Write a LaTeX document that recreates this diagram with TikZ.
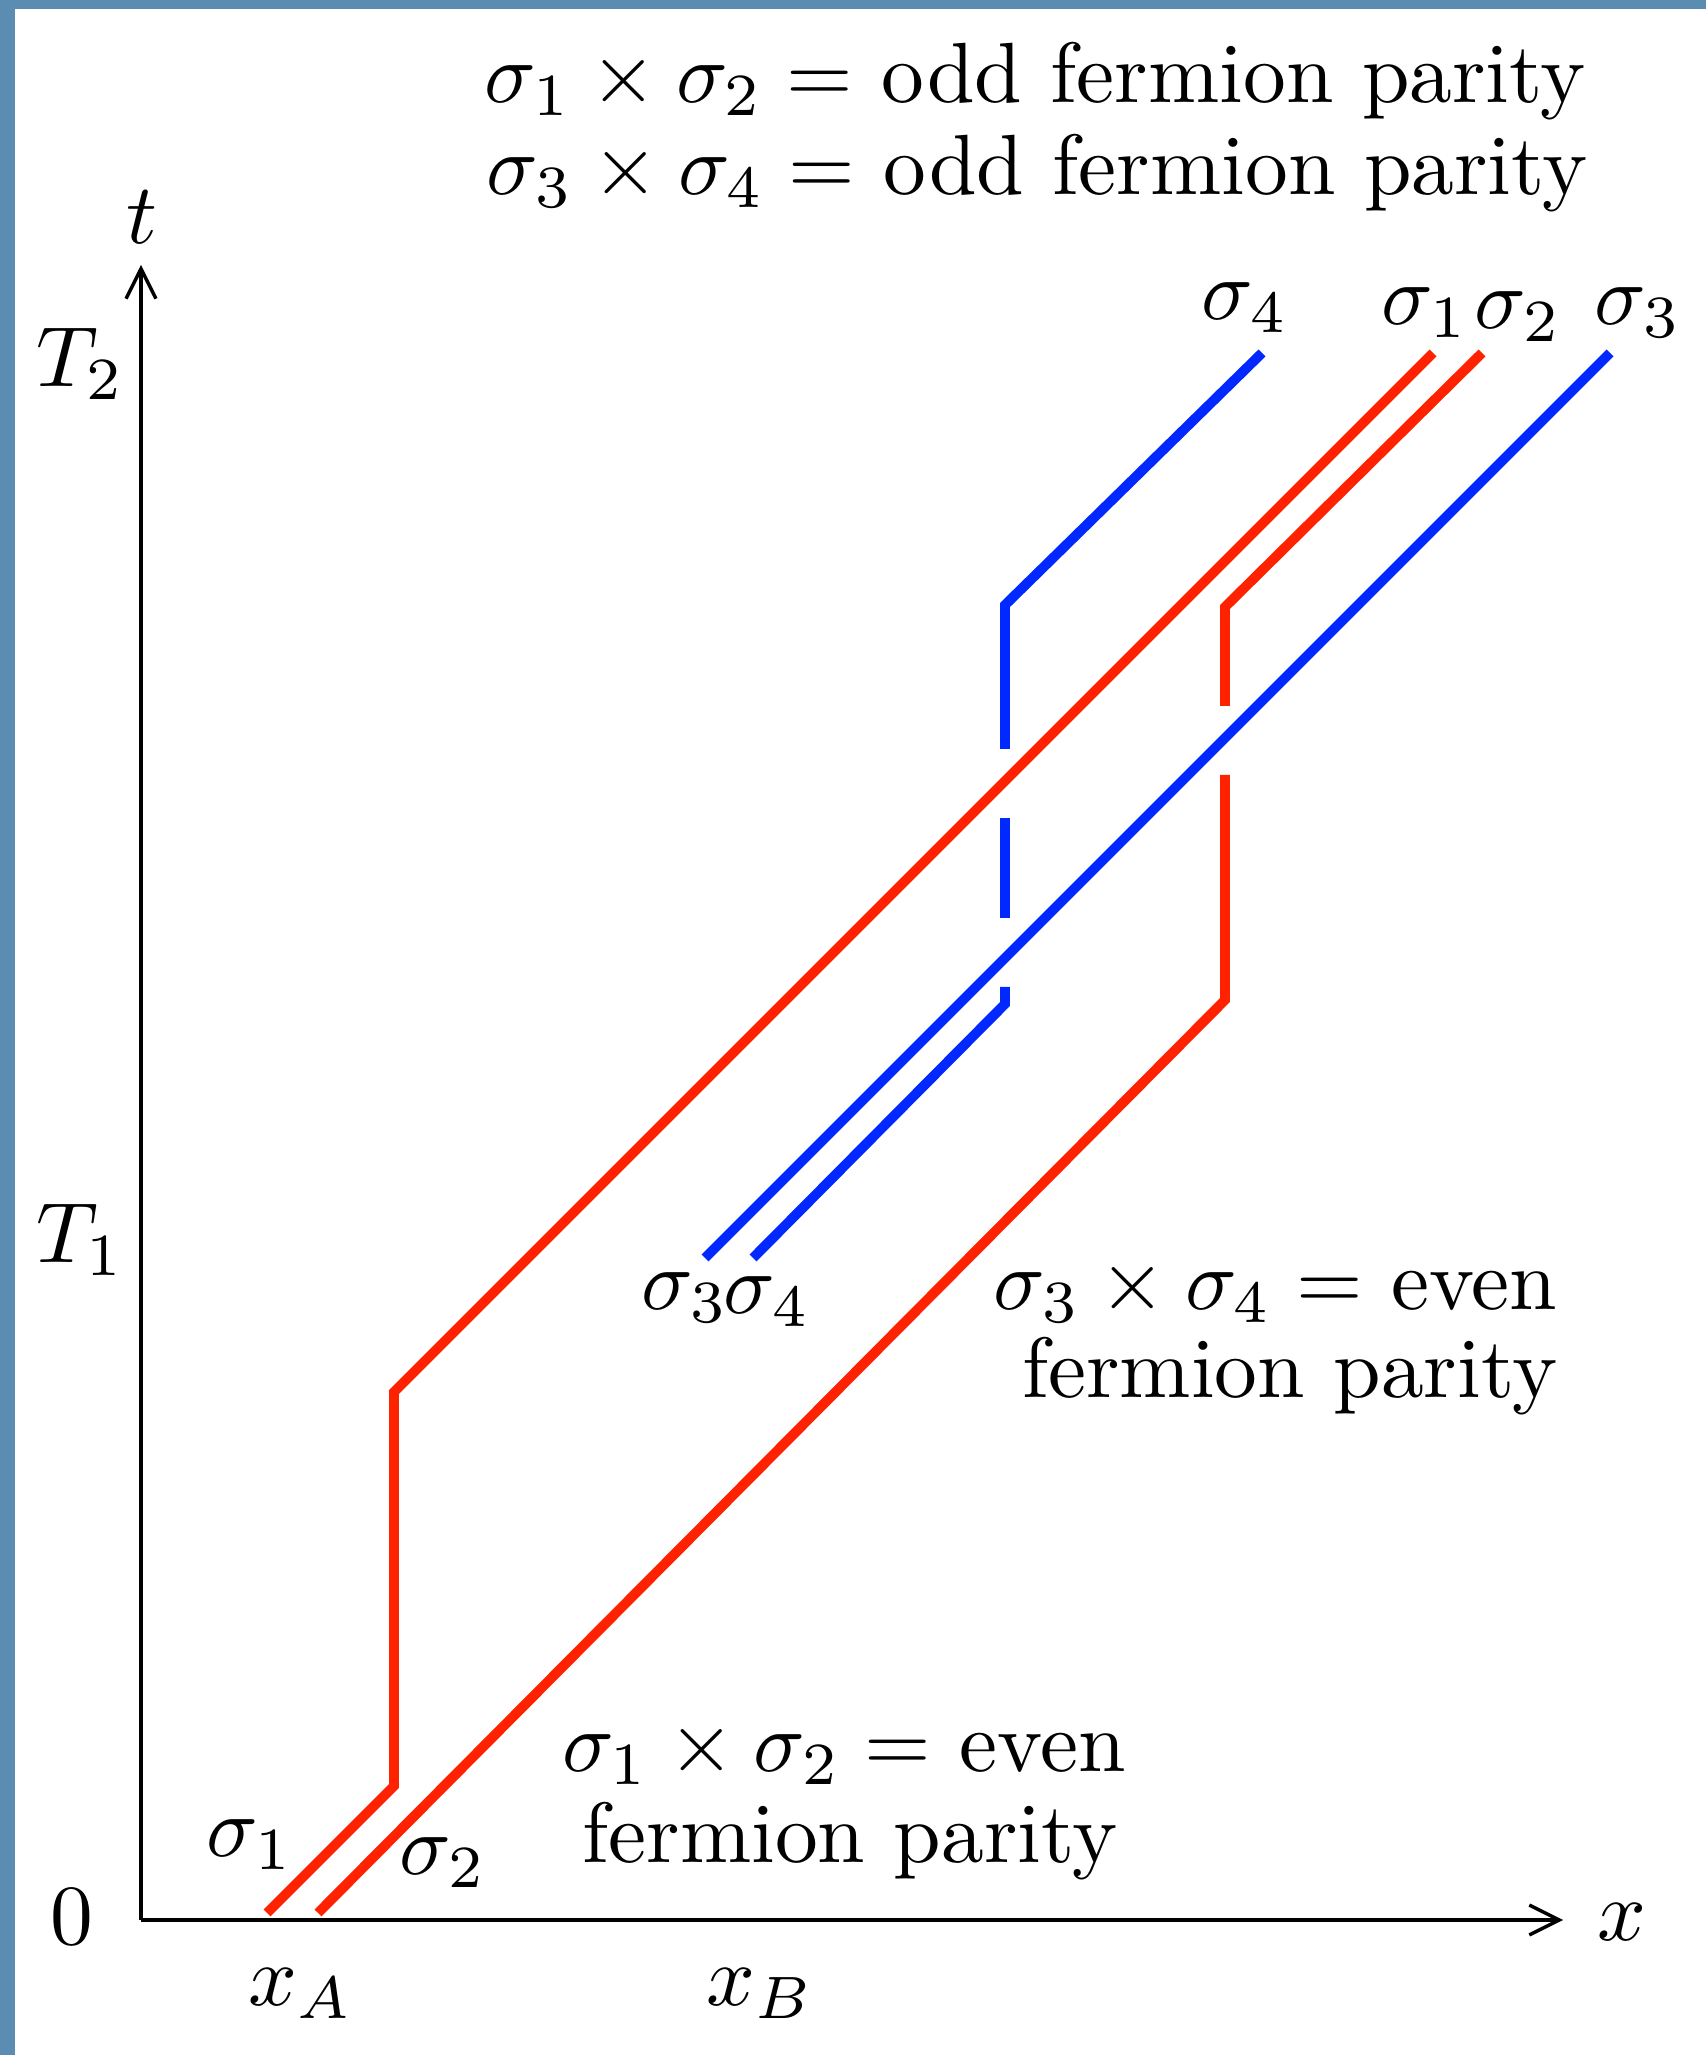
\documentclass[tikz,border=0pt]{standalone}
\usepackage{tikz}
\usetikzlibrary{arrows.meta}
\definecolor{wlred}{RGB}{255,34,0}
\definecolor{wlblue}{RGB}{0,40,255}
\definecolor{framebg}{RGB}{91,141,179}

\begin{document}
\begin{tikzpicture}[
  x=0.411cm, y=0.411cm,
  redline/.style={draw=wlred, line width=1.15pt},
  blueline/.style={draw=wlblue, line width=1.15pt},
  axis/.style={draw=black, line width=0.4pt, -{Straight Barb[length=3.5pt,width=3.5pt]}},
  lbl/.style={inner sep=0pt}
]

% frame
\useasboundingbox (-1.41,-1.35) rectangle (15.65,19.20);
\fill[framebg] (-1.41,-1.35) rectangle (-1.26,19.20);
\fill[framebg] (-1.41,19.11) rectangle (15.65,19.20);

% axes
\coordinate (O) at (0,0);
\coordinate (xend) at (14.22,0);
\coordinate (tend) at (0,16.55);
\draw[axis] (O) -- (xend);
\draw[axis] (O) -- (tend);

\node[lbl] (tlab) at (0.01,17.03) {$t$};
\node[lbl] (xlab) at (14.81,-0.02) {$x$};
\node[lbl] (zero) at (-0.69,0.03) {$0$};
\node[lbl] (ttwo) at (-0.60,15.56) {$T_2$};
\node[lbl] (tone) at (-0.60,6.80) {$T_1$};
\node[lbl] (xa) at (1.60,-0.74) {$x_A$};
\node[lbl] (xb) at (6.19,-0.74) {$x_B$};

% world lines
\draw[redline] (1.26,0.07) -- (2.53,1.34) -- (2.53,5.28) -- (12.92,15.67);
\draw[redline] (1.77,0.07) -- (10.84,9.2) -- (10.84,11.45);
\draw[redline] (10.84,12.14) -- (10.84,13.13) -- (13.41,15.67);
\draw[blueline] (5.64,6.62) -- (14.69,15.67);
\draw[blueline] (6.12,6.62) -- (8.64,9.16) -- (8.64,9.33);
\draw[blueline] (8.64,10.02) -- (8.64,11.02);
\draw[blueline] (8.64,11.71) -- (8.64,13.15) -- (11.21,15.67);

% sigma labels
\node[lbl] (s1bot) at (1.09,0.75) {$\sigma_1$};
\node[lbl] (s2bot) at (3.02,0.57) {$\sigma_2$};
\node[lbl] (s3mid) at (5.44,6.22) {$\sigma_3$};
\node[lbl] (s4mid) at (6.26,6.18) {$\sigma_4$};
\node[lbl] (s4top) at (11.04,16.12) {$\sigma_4$};
\node[lbl] (s1top) at (12.84,16.07) {$\sigma_1$};
\node[lbl] (s2top) at (13.77,16.03) {$\sigma_2$};
\node[lbl] (s3top) at (14.97,16.07) {$\sigma_3$};

% parity texts
\node[lbl] (odd12) at (8.94,18.39) {$\sigma_1\times\sigma_2=$ odd fermion parity};
\node[lbl] (odd34) at (8.96,17.47) {$\sigma_3\times\sigma_4=$ odd fermion parity};
\node[lbl, anchor=east] (even34) at (14.18,6.29) {$\sigma_3\times\sigma_4=$ even};
\node[lbl, anchor=east] (even34b) at (14.18,5.44) {fermion parity};
\node[lbl] (even12) at (7.03,1.67) {$\sigma_1\times\sigma_2=$ even};
\node[lbl] (even12b) at (7.09,0.79) {fermion parity};

\end{tikzpicture}
\end{document}
